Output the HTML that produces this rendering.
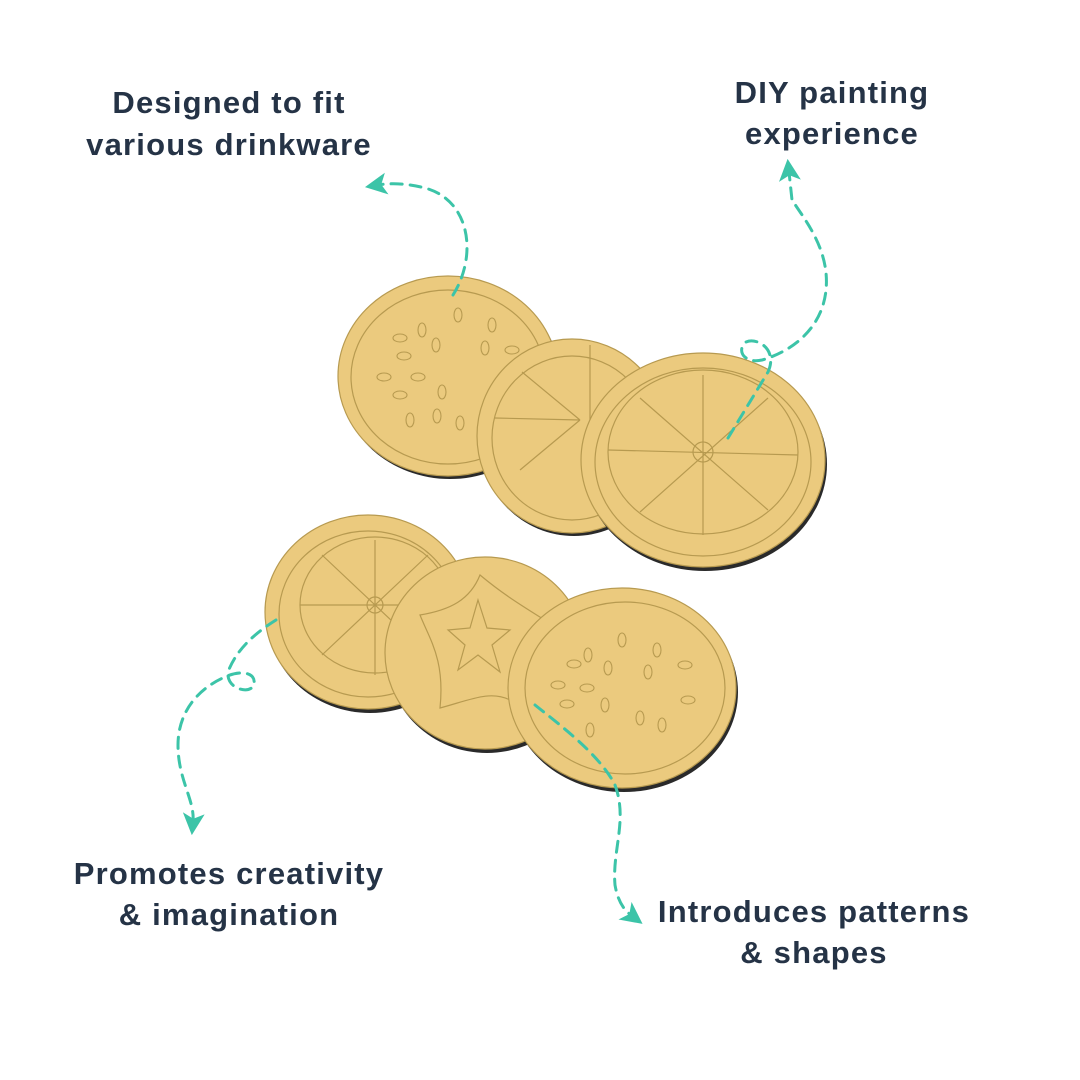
<!DOCTYPE html>
<html><head><style>
html,body{margin:0;padding:0;background:#fff;}
svg{display:block}
text{font-family:"Liberation Sans",sans-serif;font-weight:bold;font-size:31px;letter-spacing:1.2px;fill:#253346;text-anchor:middle}
</style></head><body>
<svg width="1080" height="1080" viewBox="0 0 1080 1080" xmlns="http://www.w3.org/2000/svg">
<defs>
<marker id="ah" markerWidth="22" markerHeight="22" refX="8" refY="10" orient="auto" markerUnits="userSpaceOnUse" viewBox="0 0 20 20">
<path d="M0,0 L20,10 L0,20 L5,10 Z" fill="#3cc4a8"/></marker>
</defs>
<rect width="1080" height="1080" fill="#fff"/>
<g stroke="#b79a50" stroke-width="1.2" fill="none">
<ellipse cx="450" cy="379" rx="110" ry="100" fill="#2a2a2a" stroke="none"/>
<ellipse cx="448" cy="376" rx="110" ry="100" fill="#ebca7e"/>
<ellipse cx="448" cy="377" rx="97" ry="87"/>
<ellipse cx="574" cy="439" rx="95" ry="97" fill="#2a2a2a" stroke="none"/>
<ellipse cx="572" cy="436" rx="95" ry="97" fill="#ebca7e"/>
<ellipse cx="572" cy="438" rx="80" ry="82"/>
<path d="M495,418 L580,420 M522,372 L580,420 M590,345 L590,420 M520,470 L580,420"/>
<ellipse cx="705" cy="464" rx="122" ry="107" fill="#2a2a2a" stroke="none"/>
<ellipse cx="703" cy="460" rx="122" ry="107" fill="#ebca7e"/>
<ellipse cx="703" cy="462" rx="108" ry="94"/>
<ellipse cx="703" cy="452" rx="95" ry="82"/>
<path d="M608,450 L798,455 M703,375 L703,535 M640,398 L768,510 M640,512 L768,398"/>
<circle cx="703" cy="452" r="10"/>
<ellipse cx="370" cy="616" rx="103" ry="97" fill="#2a2a2a" stroke="none"/>
<ellipse cx="368" cy="612" rx="103" ry="97" fill="#ebca7e"/>
<ellipse cx="368" cy="614" rx="89" ry="83"/>
<ellipse cx="375" cy="605" rx="75" ry="68"/>
<path d="M300,605 L450,605 M375,540 L375,675 M322,555 L428,655 M322,655 L428,555"/>
<circle cx="375" cy="605" r="8"/>
<ellipse cx="487" cy="657" rx="100" ry="96" fill="#2a2a2a" stroke="none"/>
<ellipse cx="485" cy="653" rx="100" ry="96" fill="#ebca7e"/>
<path d="M480,575 C470,600 450,610 420,615 C430,640 445,660 440,708 C470,700 490,690 510,700 C515,670 530,650 560,630 C530,610 510,600 480,575Z"/>
<path d="M478,600 L487,628 L510,630 L492,645 L500,672 L478,655 L458,670 L465,645 L448,630 L470,628Z"/>
<ellipse cx="624" cy="692" rx="114" ry="100" fill="#2a2a2a" stroke="none"/>
<ellipse cx="622" cy="688" rx="114" ry="100" fill="#ebca7e"/>
<ellipse cx="625" cy="688" rx="100" ry="86"/>
</g>
<g fill="none" stroke="#b79a50" stroke-width="1.1">
<ellipse cx="458" cy="315" rx="4" ry="7"/><ellipse cx="422" cy="330" rx="4" ry="7"/><ellipse cx="492" cy="325" rx="4" ry="7"/>
<ellipse cx="400" cy="338" rx="7" ry="4"/><ellipse cx="436" cy="345" rx="4" ry="7"/><ellipse cx="485" cy="348" rx="4" ry="7"/>
<ellipse cx="404" cy="356" rx="7" ry="4"/><ellipse cx="512" cy="350" rx="7" ry="4"/><ellipse cx="384" cy="377" rx="7" ry="4"/>
<ellipse cx="418" cy="377" rx="7" ry="4"/><ellipse cx="442" cy="392" rx="4" ry="7"/><ellipse cx="400" cy="395" rx="7" ry="4"/>
<ellipse cx="437" cy="416" rx="4" ry="7"/><ellipse cx="460" cy="423" rx="4" ry="7"/><ellipse cx="410" cy="420" rx="4" ry="7"/>
<ellipse cx="622" cy="640" rx="4" ry="7"/><ellipse cx="588" cy="655" rx="4" ry="7"/><ellipse cx="657" cy="650" rx="4" ry="7"/>
<ellipse cx="574" cy="664" rx="7" ry="4"/><ellipse cx="608" cy="668" rx="4" ry="7"/><ellipse cx="648" cy="672" rx="4" ry="7"/>
<ellipse cx="685" cy="665" rx="7" ry="4"/><ellipse cx="558" cy="685" rx="7" ry="4"/><ellipse cx="587" cy="688" rx="7" ry="4"/>
<ellipse cx="688" cy="700" rx="7" ry="4"/><ellipse cx="567" cy="704" rx="7" ry="4"/><ellipse cx="605" cy="705" rx="4" ry="7"/>
<ellipse cx="640" cy="718" rx="4" ry="7"/><ellipse cx="662" cy="725" rx="4" ry="7"/><ellipse cx="590" cy="730" rx="4" ry="7"/>
</g>
<g fill="none" stroke="#3cc4a8" stroke-width="3" stroke-dasharray="11,8" stroke-linecap="round">
<path d="M453,295 C478,255 470,200 425,188 C405,183 390,183 378,185" marker-end="url(#ah)"/>
<path d="M728,438 L768,372 C778,350 758,337 746,342 C736,350 744,364 762,360 C790,352 822,330 826,290 C830,250 805,220 792,200 L789,172" marker-end="url(#ah)"/>
<path d="M276,620 C255,633 236,650 228,672 C226,690 252,695 254,684 C256,672 240,670 225,677 C195,690 178,715 178,745 C178,780 195,800 193,822" marker-end="url(#ah)"/>
<path d="M535,705 C560,725 600,755 615,785 C628,820 612,850 615,885 C618,902 624,910 632,916" marker-end="url(#ah)"/>
</g>
<text x="229" y="113">Designed to fit</text>
<text x="229" y="155">various drinkware</text>
<text x="832" y="103">DIY painting</text>
<text x="832" y="144">experience</text>
<text x="229" y="884">Promotes creativity</text>
<text x="229" y="925">&amp; imagination</text>
<text x="814" y="922">Introduces patterns</text>
<text x="814" y="963">&amp; shapes</text>
</svg>
</body></html>
